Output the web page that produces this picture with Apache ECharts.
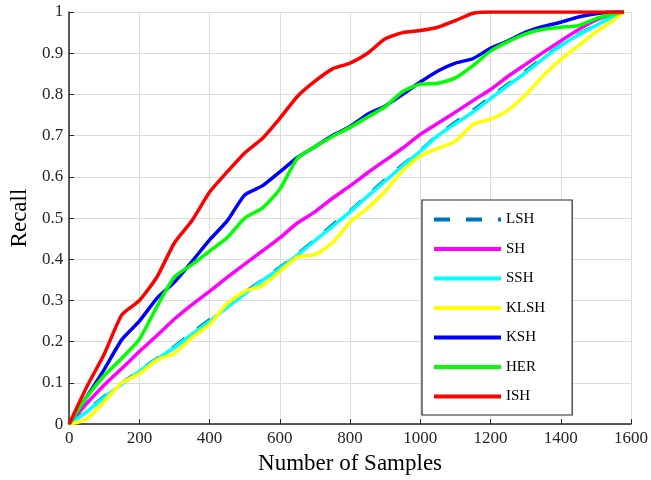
<!DOCTYPE html>
<html>
<head>
<meta charset="utf-8">
<script src="https://cdn.jsdelivr.net/npm/echarts@6/dist/echarts.min.js"></script>
<style>html,body{margin:0;padding:0;background:#fff;}#c{width:651px;height:480px;}</style>
</head>
<body>
<div id="c"></div>
<script>
const samples = [0,50,100,150,200,250,300,350,400,450,500,550,600,650,700,750,800,850,900,950,1000,1050,1100,1150,1200,1250,1300,1350,1400,1450,1500,1550,1580];
const LSH  = [0,0.033,0.068,0.100,0.130,0.160,0.189,0.222,0.254,0.286,0.320,0.350,0.381,0.413,0.448,0.484,0.518,0.556,0.594,0.630,0.664,0.702,0.733,0.762,0.794,0.826,0.857,0.890,0.920,0.946,0.968,0.990,1];
const SH   = [0,0.050,0.095,0.135,0.176,0.215,0.255,0.290,0.322,0.356,0.388,0.420,0.452,0.488,0.515,0.548,0.578,0.610,0.640,0.670,0.703,0.730,0.757,0.785,0.812,0.844,0.873,0.902,0.930,0.957,0.980,0.995,1];
const SSH  = [0,0.030,0.065,0.097,0.128,0.158,0.186,0.218,0.250,0.283,0.316,0.348,0.378,0.410,0.445,0.480,0.515,0.553,0.590,0.627,0.662,0.700,0.729,0.757,0.790,0.822,0.853,0.887,0.918,0.944,0.967,0.990,1];
const KLSH = [0,0.012,0.055,0.100,0.122,0.155,0.172,0.210,0.242,0.292,0.322,0.336,0.370,0.405,0.411,0.440,0.490,0.524,0.565,0.615,0.650,0.669,0.686,0.727,0.740,0.762,0.799,0.845,0.885,0.918,0.951,0.980,1];
const KSH  = [0,0.066,0.133,0.205,0.250,0.305,0.345,0.395,0.447,0.493,0.556,0.578,0.612,0.647,0.673,0.700,0.722,0.752,0.772,0.800,0.830,0.857,0.876,0.887,0.912,0.930,0.951,0.965,0.975,0.988,0.996,1.000,1];
const HER  = [0,0.065,0.118,0.160,0.206,0.285,0.357,0.387,0.420,0.452,0.500,0.524,0.570,0.645,0.673,0.698,0.720,0.745,0.770,0.807,0.825,0.827,0.840,0.870,0.905,0.928,0.947,0.958,0.963,0.967,0.984,0.995,1];
const ISH  = [0,0.090,0.170,0.265,0.300,0.357,0.440,0.494,0.563,0.612,0.658,0.693,0.742,0.795,0.832,0.862,0.876,0.900,0.935,0.950,0.955,0.963,0.979,0.997,1,1,1,1,1,1,1,1,1];
const xTicks = [0,200,400,600,800,1000,1200,1400,1600];
const yTicks = [0,0.1,0.2,0.3,0.4,0.5,0.6,0.7,0.8,0.9,1];

const names = ['LSH','SH','SSH','KLSH','KSH','HER','ISH'];
const values = [LSH,SH,SSH,KLSH,KSH,HER,ISH];
const colors = ['#0072BD','#ff00ff','#00ffff','#ffff00','#0000ff','#00ff00','#ff0000'];
const FONT = '"Liberation Serif", "Times New Roman", serif';

const series = names.map((n,i)=>({
  name:n, type:'line', symbol:'none', smooth:0.2,
  data: samples.map((x,j)=>[x, values[i][j]]),
  lineStyle:{color:colors[i], width: i===0?3:3.5, type: i===0?[16,16]:'solid'},
  itemStyle:{color:colors[i]},
  z: 2+i
}));

const chart = echarts.init(document.getElementById('c'), null, {renderer:'canvas'});
chart.setOption({
  animation:false,
  backgroundColor:'#fff',
  grid:{left:57,right:18,top:12,bottom:47,containLabel:false},
  xAxis:{
    type:'value', min:0, max:1600, interval:200,
    name:'Number of Samples', nameLocation:'middle', nameGap:22,
    nameTextStyle:{fontFamily:FONT,fontSize:23,color:'#000'},
    axisLine:{show:true,onZero:false,lineStyle:{color:'#262626',width:1.5}},
    axisTick:{show:true,inside:true,length:5,lineStyle:{color:'#262626'}},
    axisLabel:{fontFamily:FONT,fontSize:17,color:'#262626',margin:6,formatter:v=>String(v)},
    splitLine:{show:true,lineStyle:{color:'#dcdcdc',width:1}}
  },
  yAxis:{
    type:'value', min:0, max:1, interval:0.1,
    name:'Recall', nameLocation:'middle', nameGap:31, nameRotate:90,
    nameTextStyle:{fontFamily:FONT,fontSize:23,color:'#000'},
    axisLine:{show:true,onZero:false,lineStyle:{color:'#262626',width:1.5}},
    axisTick:{show:true,inside:true,length:5,lineStyle:{color:'#262626'}},
    axisLabel:{fontFamily:FONT,fontSize:17,color:'#262626',margin:6,
      formatter:v=>{const r=Math.round(v*10)/10; return r===0?'0':(r===1?'1':String(r));}},
    splitLine:{show:true,lineStyle:{color:'#dcdcdc',width:1}}
  },
  legend:{
    orient:'vertical', left:422, top:200,
    data:names,
    itemWidth:67, itemHeight:14, itemGap:14.5, itemTextGap:4,
    padding:[12,27,11,10],
    itemStyle:{opacity:0},
    lineStyle:{width:4},
    backgroundColor:'#fff', borderColor:'#262626', borderWidth:1.2,
    textStyle:{fontFamily:FONT,fontSize:15,color:'#000'}
  },
  series: series
});
</script>
</body>
</html>
